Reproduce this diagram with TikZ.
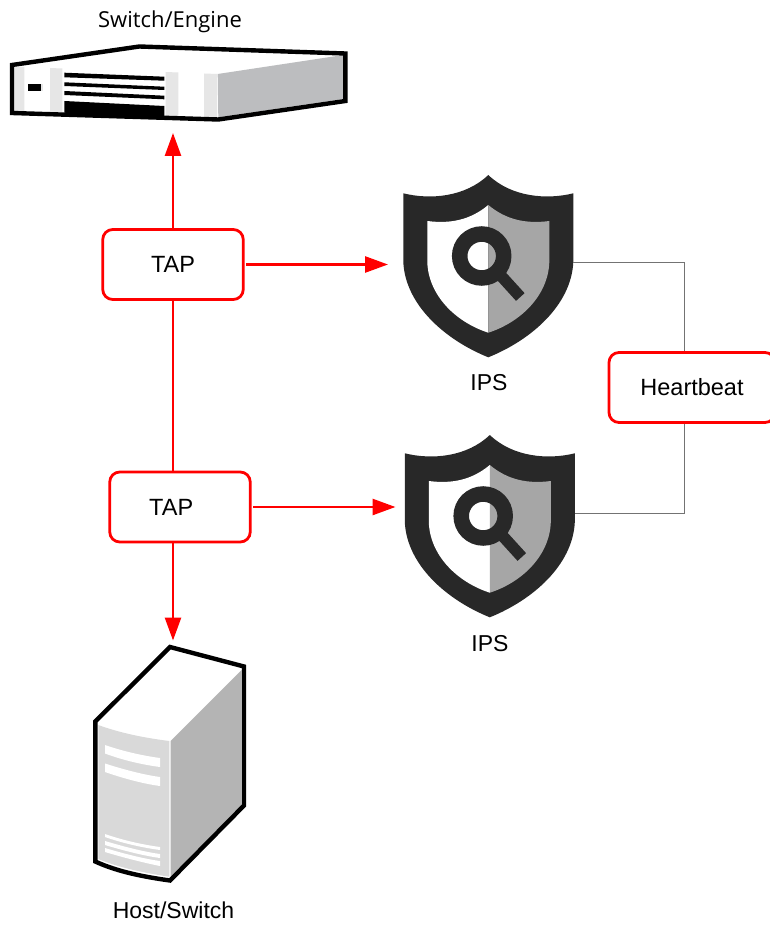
\documentclass[tikz,border=0pt]{standalone}
\usepackage{fontspec}
\setmainfont{Liberation Sans}
\newfontfamily\labelfont{Open Sans}
\usetikzlibrary{arrows.meta}
\definecolor{shielddark}{HTML}{282828}
\definecolor{shieldgray}{HTML}{A6A6A6}
\definecolor{towerfront}{HTML}{D9D9D9}
\definecolor{towerside}{HTML}{B4B4B4}
\definecolor{switchside}{HTML}{BCBDBF}
\definecolor{switchstrip}{HTML}{E6E6E6}
\tikzset{
  box/.style={draw=red,line width=2.8pt,rounded corners=10pt,fill=white,text=black,
    minimum width=#1,minimum height=70pt,inner sep=0pt,font=\fontsize{23.5}{27}\selectfont},
  redline/.style={draw=red,line width=2.7pt},
  redarrow/.style={redline,-{Triangle[length=23pt,width=16pt]}},
  grayline/.style={draw=black!55,line width=0.9pt},
  caption/.style={text=black,inner sep=0pt,anchor=base,font=\fontsize{23}{27}\selectfont},
  devline/.style={draw=black,line width=4.4pt,line join=miter},
  shield/.pic={
    \fill[shielddark] (0,0) .. controls (-23,22) and (-58,25) .. (-85,18.3) -- (-85,87)
      .. controls (-83,130) and (-43,165) .. (0,182.3)
      .. controls (43,165) and (83,130) .. (85,87) -- (85,18.3)
      .. controls (58,25) and (23,22) .. (0,0) -- cycle;
    \fill[white] (0,30) .. controls (-18,45) and (-38,49) .. (-61,46) -- (-61,87)
      .. controls (-60,120) and (-33,147) .. (0,157.7) -- cycle;
    \fill[shieldgray] (0,30) .. controls (18,45) and (38,49) .. (61,46) -- (61,87)
      .. controls (60,120) and (33,147) .. (0,157.7) -- cycle;
    \draw[shielddark,line width=15.5pt] (-6.6,81) circle[radius=22pt];
    \draw[shielddark,line width=11.5pt] (12,100) -- (32,122);
  }
}
\begin{document}
\begin{tikzpicture}[x=1pt,y=-1pt]
\useasboundingbox[fill=white] (0,0) rectangle (770,928);

% switch device
\fill[white] (12,65) -- (139.3,46.5) -- (345.3,53.5) -- (345.3,101) -- (218.3,119.5) -- (12,113) -- cycle;
\fill[switchside] (217.7,74) -- (343.3,55) -- (343.3,99) -- (218.3,117.3) -- cycle;
\fill[switchstrip] (13.3,66.5) -- (24.3,67) -- (24.3,112) -- (13.3,111.7) -- cycle;
\fill[switchstrip] (50,68) -- (62.3,68.5) -- (62.3,113.2) -- (50,112.9) -- cycle;
\fill[switchstrip] (165.7,72) -- (178.3,72.5) -- (178.3,116.8) -- (165.7,116.4) -- cycle;
\fill[switchstrip] (204,73.5) -- (217,74) -- (217,118.2) -- (204,117.8) -- cycle;
\fill[black] (64.3,72.7) -- (164.3,76.7) -- (164.3,80.7) -- (64.3,77.3) -- cycle;
\fill[black] (64.3,82.3) -- (164.3,86.7) -- (164.3,90) -- (64.3,86) -- cycle;
\fill[black] (64.3,91) -- (164.3,95.7) -- (164.3,99.3) -- (64.3,95) -- cycle;
\fill[black] (64.3,101) -- (164.3,106) -- (164.3,117.3) -- (64.3,112.7) -- cycle;
\fill[switchstrip] (40,84.3) rectangle (42.7,91);
\fill[black] (28.3,84.3) rectangle (40.7,91);
\draw[devline] (12,65) -- (139.3,46.5) -- (345.3,53.5) -- (345.3,101) -- (218.3,119.5) -- (12,113) -- cycle;

% tower device
\fill[white] (170,647) -- (244,666.5) -- (244,805.5) -- (170,880.5) -- (95.3,861.5) -- (95.3,721.5) -- cycle;
\fill[towerfront] (98.3,725) .. controls (120,733) and (145,738) .. (169.3,741) -- (169.3,876.7)
  .. controls (145,873) and (120,868) .. (98.3,859) -- cycle;
\fill[towerside] (170.7,741) -- (241.7,670) -- (241.7,805) -- (170.7,876.7) -- cycle;
\fill[white] (105,745) .. controls (125,752) and (145,756) .. (160,758) -- (160,767) .. controls (145,765) and (125,761) .. (105,753.5) -- cycle;
\fill[white] (105,763.5) .. controls (125,770) and (145,775) .. (160,777) -- (160,786) .. controls (145,784) and (125,779) .. (105,772) -- cycle;
\fill[white] (105,834) .. controls (125,841) and (145,845) .. (160,847) -- (160,850) .. controls (145,848) and (125,844) .. (105,837) -- cycle;
\fill[white] (105,841) .. controls (125,847) and (145,852) .. (160,854) -- (160,858) .. controls (145,856) and (125,851) .. (105,845) -- cycle;
\fill[white] (105,848) .. controls (125,854) and (145,859) .. (160,861) -- (160,866) .. controls (145,863) and (125,858) .. (105,852) -- cycle;
\draw[devline] (170,647) -- (244,666.5) -- (244,805.5) -- (170,880.5) .. controls (145,877) and (118,872) .. (95.3,861.5) -- (95.3,721.5) -- cycle;

% shields
\pic (ipsa) at (488.3,175) {shield};
\pic (ipsb) at (489.8,435) {shield};

% named anchors
\coordinate (swdev) at (173,133);
\coordinate (hostdev) at (173,640.5);
\coordinate (ipsaw) at (388,264.5);
\coordinate (ipsbw) at (395.5,507);
\coordinate (ipsae) at (573,262);
\coordinate (ipsbe) at (575,513);
\coordinate (hbtop) at (684,262);
\coordinate (hbbot) at (684,513);

% boxes
\node[box=140.5pt] (tapa) at (173,264.5) {\raisebox{.3pt}{TAP}};
\node[box=140.5pt] (tapb) at (180,507) {\hspace*{-17.6pt}\raisebox{-.5pt}{TAP}};
\node[box=166pt] (hb) at (692,387.5) {\raisebox{2pt}{Heartbeat}};

% gray heartbeat lines
\draw[grayline] (ipsae) -- (hbtop) -- (hbtop |- hb.north);
\draw[grayline] (hbbot |- hb.south) -- (hbbot) -- (ipsbe);

% red connectors
\draw[redarrow] (tapa.north) -- (swdev);
\draw[redline] (tapa.south) -- (tapa.south |- tapb.north);
\draw[redarrow] (tapa.south |- tapb.south) -- (hostdev);
\draw[redarrow,shorten <=1.5pt] (tapa.east) -- (ipsaw);
\draw[redarrow,shorten <=1.5pt] (tapb.east) -- (ipsbw);

% captions
\node[caption,font=\labelfont\fontsize{22}{26}\selectfont] (swlabel) at (170,27.5) {Switch/Engine};
\node[caption] (ipsalabel) at (489,390.7) {IPS};
\node[caption] (ipsblabel) at (490,651) {IPS};
\node[caption] (hostlabel) at (173.5,918.3) {Host/Switch};
\end{tikzpicture}
\end{document}
